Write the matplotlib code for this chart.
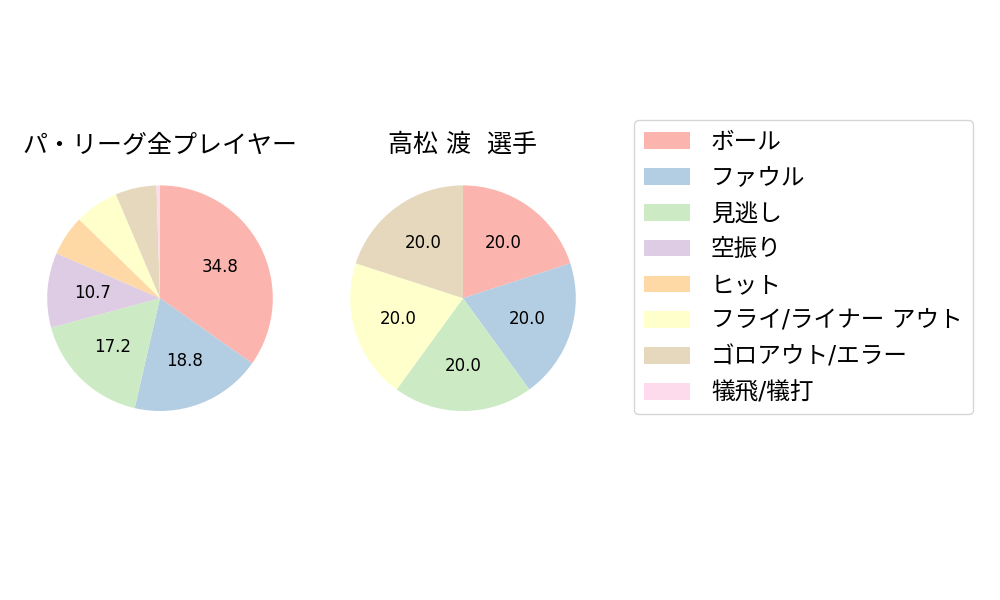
import matplotlib.pyplot as plt

plt.rcParams['font.family'] = ['DejaVu Sans', 'Noto Sans CJK JP']

# categories
labels = ["ボール", "ファウル", "見逃し", "空振り", "ヒット",
          "フライ/ライナー アウト", "ゴロアウト/エラー", "犠飛/犠打"]

# league-wide share (%)
league = [34.8, 18.8, 17.2, 10.7, 5.8, 6.3, 5.9, 0.5]
# player share (%)
player = [20.0, 20.0, 20.0, 0.0, 0.0, 20.0, 20.0, 0.0]

titles = ["パ・リーグ全プレイヤー", "高松 渡  選手"]

colors = plt.cm.Pastel1.colors[:8]


def autopct(p):
    return "%.1f" % p if p >= 10 else ""


fig = plt.figure(figsize=(10, 6), dpi=100)
ax1 = fig.add_axes([0.019, 0.268, 0.282, 0.47])
ax2 = fig.add_axes([0.322, 0.268, 0.282, 0.47])

handles = None
for ax, vals, title in zip([ax1, ax2], [league, player], titles):
    wedges, texts, autotexts = ax.pie(vals, colors=colors, startangle=90,
                                      counterclock=False,
                                      autopct=autopct, pctdistance=0.6,
                                      textprops={'fontsize': 12})
    ax.set_title(title, fontsize=18, pad=1)
    ax.set_aspect('equal')
    if handles is None:
        handles = wedges

fig.legend(handles, labels, loc='upper left', bbox_to_anchor=(0.634, 0.8),
           borderaxespad=0, fontsize=17, borderpad=0.42, labelspacing=0.5,
           handlelength=1.95, handletextpad=0.89)

fig.savefig("out.png")
